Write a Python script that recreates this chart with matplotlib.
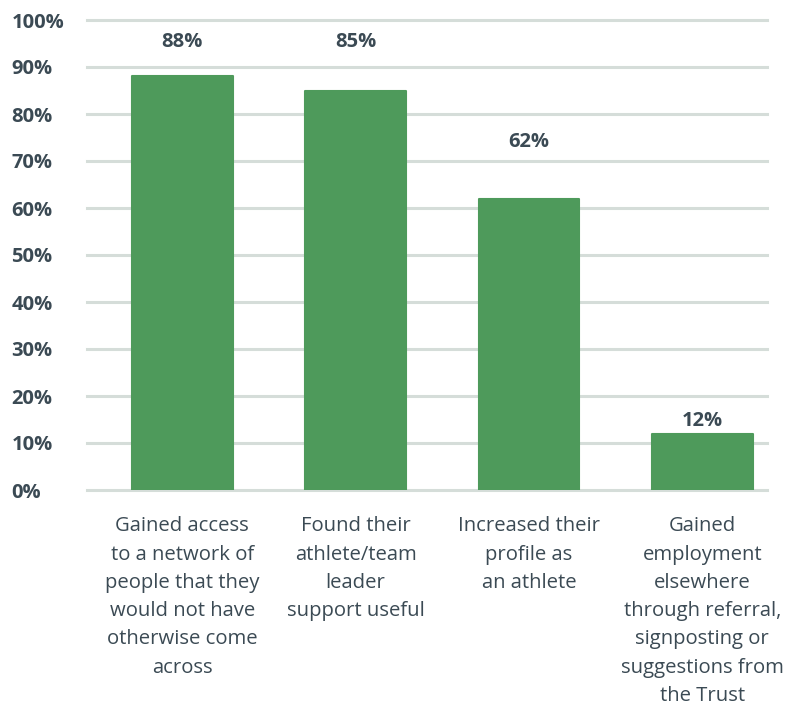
import matplotlib.pyplot as plt
from matplotlib.ticker import FuncFormatter

# survey results
categories = [
    'Gained access\nto a network of\npeople that they\nwould not have\notherwise come\nacross',
    'Found their\nathlete/team\nleader\nsupport useful',
    'Increased their\nprofile as\nan athlete',
    'Gained\nemployment\nelsewhere\nthrough referral,\nsignposting or\nsuggestions from\nthe Trust',
]
percent = [88, 85, 62, 12]
y_ticks = [0, 10, 20, 30, 40, 50, 60, 70, 80, 90, 100]

# where the value labels sit (in % units)
label_y = [95.3, 95.3, 74.0, 14.7]

bar_col = '#4e9a5b'
text_col = '#3b4a54'
grid_col = '#d5ddd9'

plt.rcParams['font.family'] = ['Open Sans', 'DejaVu Sans']

fig = plt.figure(figsize=(7.95, 7.09), dpi=100)
ax = fig.add_axes([87 / 795, 1 - 490 / 709, 680 / 795, 470 / 709])

x = list(range(len(percent)))

# horizontal grid lines
for t in y_ticks:
    ax.axhline(t, color=grid_col, linewidth=2.2, clip_on=False, zorder=0)

ax.bar(x, percent, width=0.58, color=bar_col, edgecolor=bar_col,
       linewidth=1.5, joinstyle='round', zorder=2)

for xi, v, ly in zip(x, percent, label_y):
    ax.text(xi, ly, f'{v}%', ha='center', va='center', fontsize=14.5,
            fontweight='bold', color=text_col)

ax.set_xlim(-0.55, 3.373)
ax.set_ylim(0, 100)
ax.set_yticks(y_ticks)
ax.yaxis.set_major_formatter(FuncFormatter(lambda v, p: f'{v:.0f}%'))
ax.set_xticks(x)
ax.set_xticklabels(categories, fontsize=14.6, color=text_col, linespacing=1.55,
                   va='top', ha='center')

ax.tick_params(axis='y', length=0, pad=54.5, labelsize=14.5, labelcolor=text_col)
ax.tick_params(axis='x', length=0, pad=19)
for lab in ax.get_yticklabels():
    lab.set_horizontalalignment('left')
    lab.set_fontweight('bold')

for s in ax.spines.values():
    s.set_visible(False)

plt.savefig('out.png', dpi=100)
